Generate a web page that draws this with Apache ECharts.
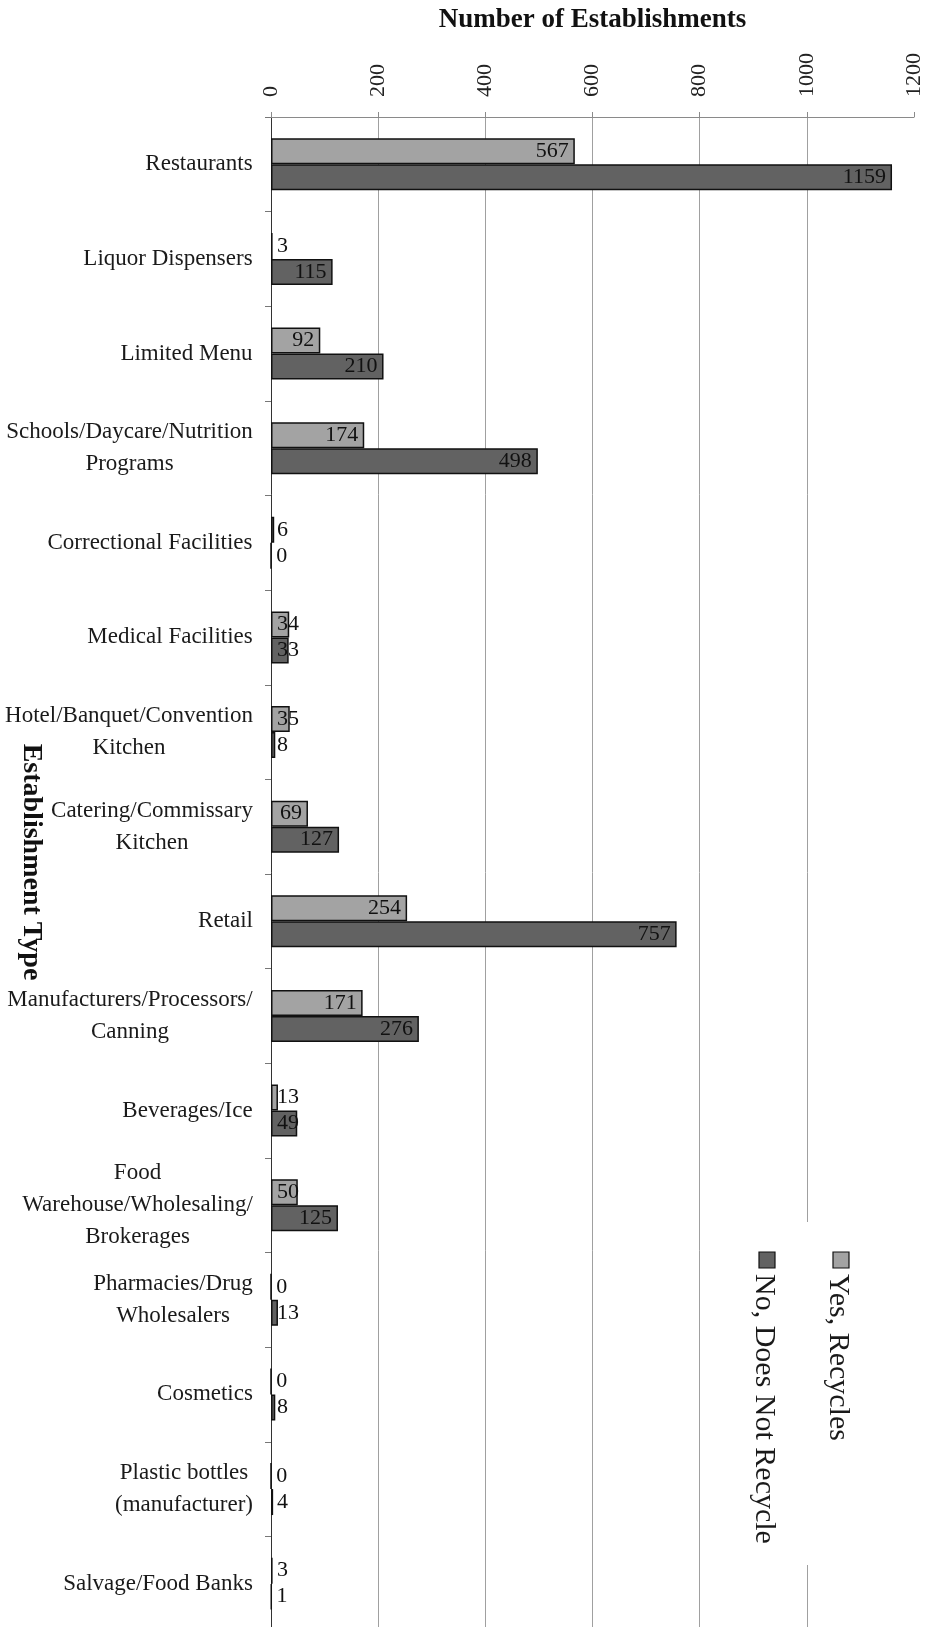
<!DOCTYPE html>
<html>
<head>
<meta charset="utf-8">
<title>Establishments by Recycling Status</title>
<script src="https://cdn.jsdelivr.net/npm/echarts@6/dist/echarts.min.js"></script>
<style>
  html, body { margin: 0; padding: 0; background: #ffffff; }
  #main { width: 935px; height: 1627px; }
</style>
</head>
<body>
<div id="main"></div>
<script>
// Establishment types (line breaks are where the labels wrap)
const categories = [
  'Restaurants',
  'Liquor Dispensers',
  'Limited Menu',
  'Schools/Daycare/Nutrition\nPrograms',
  'Correctional Facilities',
  'Medical Facilities',
  'Hotel/Banquet/Convention\nKitchen',
  'Catering/Commissary\nKitchen',
  'Retail',
  'Manufacturers/Processors/\nCanning',
  'Beverages/Ice',
  'Food\nWarehouse/Wholesaling/\nBrokerages',
  'Pharmacies/Drug\nWholesalers',
  'Cosmetics',
  'Plastic bottles\n(manufacturer)',
  'Salvage/Food Banks'
];

// Number of establishments that recycle
const yesRecycles = [567, 3, 92, 174, 6, 34, 35, 69, 254, 171, 13, 50, 0, 0, 0, 3];

// Number of establishments that do not recycle
const noDoesNotRecycle = [1159, 115, 210, 498, 0, 33, 8, 127, 757, 276, 49, 125, 13, 8, 4, 1];

const seriesNames = ['Yes, Recycles', 'No, Does Not Recycle'];
const seriesColors = ['#a3a3a3', '#626262'];

const valueMin = 0;
const valueMax = 1200;
const valueStep = 200;

const SERIF = '"Liberation Serif", "Times New Roman", Times, serif';
const CAT_FONT = 23;

// Measure label lines so wrapped category names can be centred as a block
const measureCtx = document.createElement('canvas').getContext('2d');
function textWidth(text, font) {
  measureCtx.font = font;
  return measureCtx.measureText(text).width;
}

const categoryRich = {};
categories.forEach(function (name, i) {
  const lines = name.split('\n');
  const w = Math.ceil(Math.max.apply(null, lines.map(function (l) {
    return textWidth(l, CAT_FONT + 'px ' + SERIF);
  })));
  categoryRich['c' + i] = {
    width: w,
    align: 'center',
    fontSize: CAT_FONT,
    fontFamily: SERIF,
    color: '#1a1a1a',
    lineHeight: 32
  };
});

const chart = echarts.init(document.getElementById('main'));

// Labels sit inside the bar end; short bars push the label out past the axis
function keepLabelClearOfAxis(p) {
  const minLeft = p.rect.x + 6;
  const shift = Math.max(0, minLeft - p.labelRect.x);
  return { dx: shift };
}

function barSeries(idx, values) {
  return {
    name: seriesNames[idx],
    type: 'bar',
    data: values,
    barWidth: 26,
    barGap: '0%',
    itemStyle: {
      color: seriesColors[idx],
      borderColor: '#111111',
      borderWidth: 1.5
    },
    label: {
      show: true,
      position: 'insideRight',
      distance: 6,
      fontFamily: SERIF,
      fontSize: 22,
      color: '#111111'
    },
    labelLayout: keepLabelClearOfAxis,
    emphasis: { disabled: true },
    animation: false
  };
}

// Legend drawn as a rotated group so its text runs top to bottom
const legendX = 841;
const legendY = 1252;
const legendItems = [];
seriesNames.forEach(function (name, i) {
  legendItems.push({
    type: 'rect',
    z: 20,
    shape: { x: 0, y: i * 74 - 8, width: 16, height: 16 },
    style: { fill: seriesColors[i], stroke: '#111111', lineWidth: 1.2 }
  });
  legendItems.push({
    type: 'text',
    z: 20,
    x: 22,
    y: i * 74 + 3,
    style: {
      text: name,
      font: '30px ' + SERIF,
      fill: '#1a1a1a',
      align: 'left',
      verticalAlign: 'middle'
    }
  });
});

const option = {
  backgroundColor: '#ffffff',
  animation: false,
  grid: {
    left: 271,
    right: 21,
    top: 117,
    height: 1514,
    containLabel: false,
    outerBoundsMode: 'none'
  },
  xAxis: {
    type: 'value',
    position: 'top',
    min: valueMin,
    max: valueMax,
    interval: valueStep,
    name: 'Number of Establishments',
    nameLocation: 'middle',
    nameGap: 83,
    nameMoveOverlap: false,
    nameTextStyle: {
      fontFamily: SERIF,
      fontSize: 27,
      fontWeight: 'bold',
      color: '#111111'
    },
    axisLine: { show: true, lineStyle: { color: '#8a8a8a', width: 1 } },
    axisTick: { show: true, length: 5, lineStyle: { color: '#8a8a8a' } },
    axisLabel: {
      rotate: -90,
      margin: 20,
      fontFamily: SERIF,
      fontSize: 22,
      color: '#222222',
      formatter: function (v) { return String(v); }
    },
    splitLine: {
      show: true,
      showMaxLine: false,
      lineStyle: { color: '#a0a0a0', width: 1 }
    }
  },
  yAxis: {
    type: 'category',
    inverse: true,
    data: categories,
    name: 'Establishment Type',
    nameLocation: 'middle',
    nameRotate: -90,
    nameGap: 226,
    nameMoveOverlap: false,
    nameTextStyle: {
      fontFamily: SERIF,
      fontSize: 28,
      fontWeight: 'bold',
      color: '#111111',
      padding: [0, 24, 0, 0]
    },
    axisLine: { show: true, lineStyle: { color: '#333333', width: 1 } },
    axisTick: { show: true, length: 6, lineStyle: { color: '#777777' } },
    axisLabel: {
      margin: 18,
      formatter: function (value, index) {
        return value.split('\n').map(function (l) {
          return '{c' + index + '|' + l + '}';
        }).join('\n');
      },
      rich: categoryRich
    }
  },
  series: [
    barSeries(0, yesRecycles),
    barSeries(1, noDoesNotRecycle)
  ],
  graphic: [
    {
      type: 'rect',
      shape: { x: 728, y: 1222, width: 150, height: 343 },
      style: { fill: '#ffffff' },
      z: 10
    },
    {
      type: 'group',
      x: legendX,
      y: legendY,
      rotation: -Math.PI / 2,
      z: 20,
      children: legendItems
    }
  ]
};

chart.setOption(option);
</script>
</body>
</html>
